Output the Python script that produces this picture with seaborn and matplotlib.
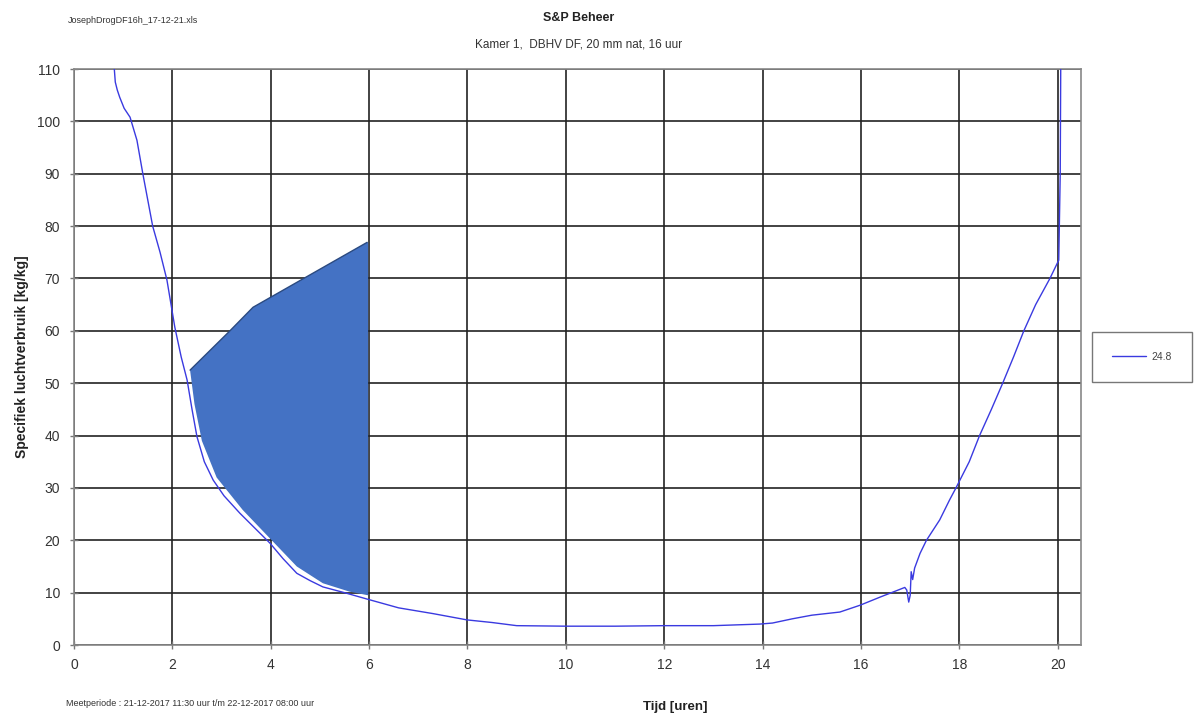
import matplotlib
matplotlib.use("Agg")
import matplotlib.pyplot as plt
import seaborn as sns
import pandas as pd

# --- data ---
curve_x = [0.82, 0.84, 0.88, 0.93, 1.02, 1.14, 1.28, 1.40, 1.50, 1.60, 1.75, 1.89, 2.05, 2.18, 2.30,
           2.40, 2.50, 2.65, 2.83, 3.05, 3.37, 3.68, 3.98, 4.25, 4.53, 4.80, 5.06, 5.50, 5.95, 6.60,
           7.30, 7.99, 8.50, 9.00, 10.0, 11.0, 12.0, 13.0, 13.94, 14.20, 14.60, 15.00, 15.57, 15.98,
           16.40, 16.70, 16.89, 16.93, 16.97, 17.00, 17.02, 17.05, 17.09, 17.20, 17.33, 17.60, 17.80,
           17.93, 18.20, 18.41, 18.65, 18.88, 19.10, 19.31, 19.55, 19.84, 20.02, 20.05, 20.06]
curve_y = [110, 107.5, 106.0, 104.6, 102.5, 100.8, 96.4, 90.0, 85.0, 80.0, 75.0, 69.7, 60.7, 55.0, 50.6,
           45.0, 39.8, 35.0, 31.5, 28.5, 25.2, 22.3, 19.5, 16.5, 13.7, 12.3, 11.1, 10.0, 8.8, 7.1,
           6.0, 4.8, 4.3, 3.7, 3.6, 3.6, 3.7, 3.7, 4.0, 4.2, 5.0, 5.7, 6.3, 7.6,
           9.2, 10.3, 11.0, 10.5, 8.2, 9.5, 14.0, 12.5, 14.7, 17.5, 20.0, 23.9, 27.7,
           30.0, 35.0, 40.0, 45.0, 50.0, 55.0, 60.0, 65.0, 70.0, 73.5, 90.0, 110]

poly_top_x = [2.36, 3.17, 3.64, 5.96, 5.98]
poly_top_y = [52.5, 60.0, 64.5, 76.9, 76.9]
poly_bot_x = [5.98, 5.60, 5.06, 4.53, 3.98, 3.43, 2.90, 2.60, 2.45, 2.36]
poly_bot_y = [9.5, 10.2, 11.8, 15.0, 20.4, 25.8, 32.0, 39.0, 46.0, 52.5]

x_ticks = [0, 2, 4, 6, 8, 10, 12, 14, 16, 18, 20]
y_ticks = [0, 10, 20, 30, 40, 50, 60, 70, 80, 90, 100, 110]
series_label = "24.8"

sns.set_style("white")
plt.rcParams['font.family'] = ['Liberation Sans', 'DejaVu Sans']

fig = plt.figure(figsize=(11.97, 7.22), dpi=100)
ax = fig.add_axes([0.0618, 0.1066, 0.903 - 0.0618, 0.9044 - 0.1066])

# polygon
px = poly_top_x + poly_bot_x
py = poly_top_y + poly_bot_y
ax.fill(px, py, facecolor="#4472C4", edgecolor="none", zorder=3)
ax.plot(poly_top_x[:4], poly_top_y[:4], color="#2B4A80", lw=1.0, zorder=4)

df = pd.DataFrame({"x": curve_x, "y": curve_y, "s": series_label})
sns.lineplot(data=df, x="x", y="y", hue="s", palette=["#3a3ae0"], sort=False,
             lw=1.0, ax=ax, zorder=5, estimator=None)

ax.set_xlim(0, 20.47)
ax.set_ylim(0, 110)
ax.set_xticks(x_ticks)
ax.set_yticks(y_ticks)
ax.grid(True, color="#222222", lw=1.2, zorder=1)
ax.set_axisbelow(True)
for sp in ax.spines.values():
    sp.set_color("#888888")
    sp.set_linewidth(1.2)
ax.tick_params(axis="both", direction="inout", length=6, width=1, color="#777777",
               labelsize=10, labelcolor="#333333", bottom=True, left=True)
ax.tick_params(axis="x", pad=6)
ax.tick_params(axis="y", pad=7)
ax.set_xlabel("")
ax.set_ylabel("Specifiek luchtverbruik [kg/kg]", fontsize=10, fontweight="bold",
              color="#222222", labelpad=6)

leg = ax.legend(loc="center left", bbox_to_anchor=(1.011, 0.5), frameon=True,
                fontsize=7.5, handlelength=3.3, borderpad=1.9, borderaxespad=0,
                handletextpad=0.5, fancybox=False, edgecolor="#555555")
leg.get_frame().set_linewidth(1.0)
for t in leg.get_texts():
    t.set_color("#444444")

fig.text(0.057, 0.972, "JosephDrogDF16h_17-12-21.xls", fontsize=6.5, color="#333333",
         va="center", ha="left")
fig.text(0.483, 0.975, "S&P Beheer", fontsize=9, fontweight="bold", color="#222222",
         ha="center", va="center")
fig.text(0.483, 0.938, "Kamer 1,  DBHV DF, 20 mm nat, 16 uur", fontsize=8.5, color="#333333",
         ha="center", va="center")
fig.text(0.055, 0.025, "Meetperiode : 21-12-2017 11:30 uur t/m 22-12-2017 08:00 uur",
         fontsize=6.5, color="#333333", ha="left", va="center")
fig.text(0.564, 0.021, "Tijd [uren]", fontsize=9.5, fontweight="bold", color="#222222",
         ha="center", va="center")

fig.savefig("out.png", dpi=100)
